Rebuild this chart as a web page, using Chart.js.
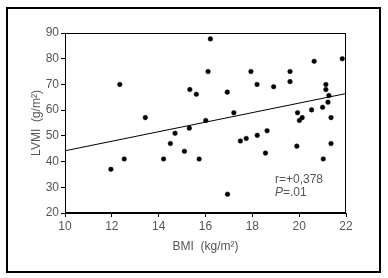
<!DOCTYPE html>
<html><head><meta charset="utf-8">
<script src="https://cdn.jsdelivr.net/npm/chart.js@4/dist/chart.umd.min.js"></script>
<style>html,body{margin:0;padding:0;background:#fff;}#wrap{position:relative;width:388px;height:278px;}</style>
</head><body><div id="wrap"><canvas id="c" width="388" height="278"></canvas></div>
<script>
const bmi = [11.96,12.34,12.53,13.43,14.21,14.5,14.7,15.1,15.31,15.33,15.61,15.73,16.01,16.11,16.21,16.93,16.94,17.21,17.49,17.74,17.94,18.2,18.21,18.56,18.63,18.91,19.61,19.61,19.9,19.93,20.01,20.13,20.53,20.64,21.0,21.03,21.14,21.14,21.23,21.27,21.36,21.36,21.84];
const lvmi = [37,70,41,57.1,41,47,51,44,53,68,66.2,41,56,75,87.7,67,27.3,59,48,49,75,70,50.2,43.3,52,69.1,75,71.1,46,59,56,57.1,60.1,79,61.1,41,70,68,63.1,65.7,57.1,47,80];
const fitX = [10, 22];
const fitY = [44.2, 66.45];
const xTicks = [10,12,14,16,18,20,22];
const yTicks = [20,30,40,50,60,70,80,90];
const statLines = ['r=+0,378', 'P=.01'];

const textColor = '#555';
const fontFam = '"Liberation Sans", Arial, sans-serif';

const framePlugin = {
  id: 'frame',
  afterDraw(chart) {
    const ctx = chart.ctx, a = chart.chartArea;
    ctx.save();
    ctx.strokeStyle = '#000';
    ctx.lineWidth = 1;
    ctx.strokeRect(a.left + 0.5, a.top + 0.5, a.right - a.left - 1, a.bottom - a.top - 1);
    ctx.lineWidth = 2;
    ctx.strokeRect(7, 8, 373, 264);
    // stats text
    const xs = chart.scales.x, ys = chart.scales.y;
    ctx.fillStyle = textColor;
    ctx.textBaseline = 'middle';
    ctx.textAlign = 'left';
    ctx.font = '12px ' + fontFam;
    ctx.fillText(statLines[0], 275, 180);
    ctx.font = 'italic 12px ' + fontFam;
    ctx.fillText('P', 275, 193);
    const w = ctx.measureText('P').width;
    ctx.font = '12px ' + fontFam;
    ctx.fillText(statLines[1].slice(1), 275 + w, 193);
    ctx.restore();
  }
};

new Chart(document.getElementById('c'), {
  type: 'scatter',
  data: {
    datasets: [
      {
        data: bmi.map((v, i) => ({x: v, y: lvmi[i]})),
        pointStyle: 'circle', pointRadius: 2.3, pointBackgroundColor: '#000', pointBorderColor: '#000', borderWidth: 0.5,
        pointHoverRadius: 2.3
      },
      {
        type: 'line',
        data: fitX.map((v, i) => ({x: v, y: fitY[i]})),
        borderColor: '#000', borderWidth: 1, pointRadius: 0, fill: false, tension: 0
      }
    ]
  },
  options: {
    responsive: false, animation: false,
    events: [],
    layout: {padding: {left: 0, top: 33, right: 42, bottom: 0}},
    plugins: {legend: {display: false}, tooltip: {enabled: false}},
    scales: {
      x: {
        type: 'linear', min: 10, max: 22,
        afterBuildTicks: s => { s.ticks = xTicks.map(v => ({value: v})); },
        afterFit: s => { s.height = 65; },
        grid: {drawOnChartArea: false, drawTicks: true, tickLength: 4, color: '#000'},
        border: {display: true, color: '#000', width: 1},
        ticks: {color: textColor, font: {family: fontFam, size: 12}, padding: 2, maxRotation: 0},
        title: {display: true, text: 'BMI  (kg/m²)', color: textColor, font: {family: fontFam, size: 12}, padding: {top: 0, bottom: 24}}
      },
      y: {
        type: 'linear', min: 20, max: 90,
        afterBuildTicks: s => { s.ticks = yTicks.map(v => ({value: v})); },
        afterFit: s => { s.width = 65; },
        grid: {drawOnChartArea: false, drawTicks: true, tickLength: 4, color: '#000'},
        border: {display: true, color: '#000', width: 1},
        ticks: {color: textColor, font: {family: fontFam, size: 12}, padding: 2},
        title: {display: true, text: 'LVMI  (g/m²)', color: textColor, font: {family: fontFam, size: 12}, padding: {top: 29, bottom: 0}}
      }
    }
  },
  plugins: [framePlugin]
});
</script></body></html>
